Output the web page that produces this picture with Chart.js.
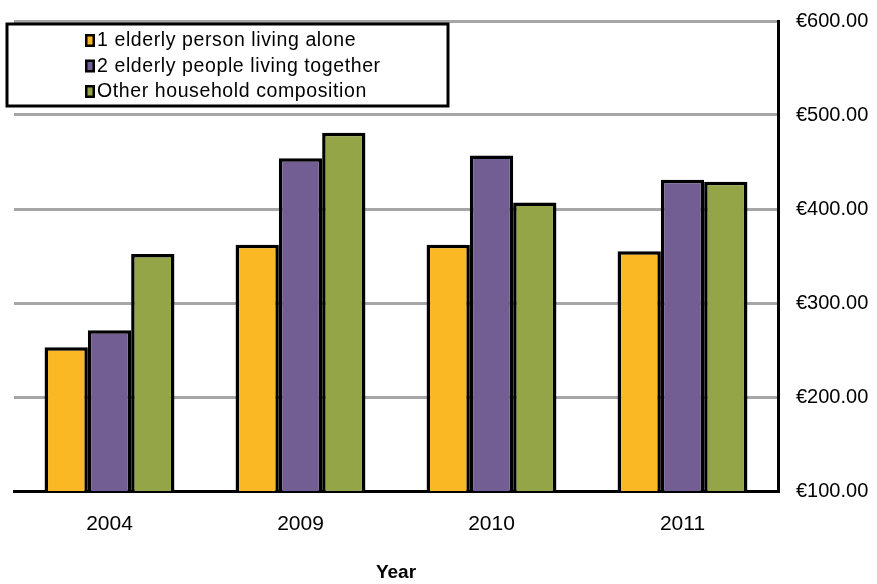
<!DOCTYPE html>
<html>

<head>
    <title>Household costs by composition</title>
    <script src="https://cdn.jsdelivr.net/npm/chart.js@4.4.0/dist/chart.umd.min.js"></script>
    <style>
        html, body { margin: 0; padding: 0; background: #fff; }
        #wrap { width: 877px; height: 584px; }
    </style>
</head>

<body>
    <div id="wrap"><canvas id="costChart" width="877" height="584"></canvas></div>

    <script>
        // Years and amounts per household type
        var years = ['2004', '2009', '2010', '2011'];
        var alone = [253, 362, 362, 355];
        var together = [271, 454, 457, 431];
        var other = [352, 481, 407, 429];
        var seriesNames = ['1 elderly person living alone', '2 elderly people living together', 'Other household composition'];
        var yTicks = [100, 200, 300, 400, 500, 600];

        var colors = ['#F9B824', '#735E93', '#94A548'];
        var font = "'Liberation Sans', Arial, sans-serif";

        // Boxed legend drawn over the top left of the plot
        var boxLegend = {
            id: 'boxLegend',
            afterDraw: function (chart) {
                var c = chart.ctx;
                c.save();
                c.fillStyle = '#fff';
                c.fillRect(7, 24, 441, 82);
                c.lineWidth = 3;
                c.strokeStyle = '#000';
                c.strokeRect(7, 24, 441, 82);
                c.font = '19.5px ' + font;
                c.letterSpacing = '0.6px';
                c.textBaseline = 'middle';
                chart.data.datasets.forEach(function (ds, i) {
                    var y = 40 + i * 25.5;
                    c.fillStyle = '#000';
                    c.fillRect(85, y - 6, 10, 13);
                    c.fillStyle = ds.backgroundColor;
                    c.fillRect(87.5, y - 3.5, 5, 8);
                    c.fillStyle = '#000';
                    c.fillText(ds.label, 97, y + 1);
                });
                c.restore();
            }
        };

        var ctx = document.getElementById('costChart').getContext('2d');
        var chart = new Chart(ctx, {
            type: 'bar',
            data: {
                labels: years,
                datasets: [
                    { label: seriesNames[0], data: alone, backgroundColor: colors[0] },
                    { label: seriesNames[1], data: together, backgroundColor: colors[1] },
                    { label: seriesNames[2], data: other, backgroundColor: colors[2] }
                ].map(function (d) {
                    d.borderColor = '#000';
                    d.borderWidth = 3.5;
                    d.borderSkipped = false;
                    d.barPercentage = 1;
                    d.categoryPercentage = 0.68;
                    return d;
                })
            },
            options: {
                responsive: false,
                animation: false,
                layout: { padding: { left: 14, top: 21, right: 0, bottom: 0 } },
                plugins: {
                    legend: { display: false },
                    tooltip: { enabled: false }
                },
                scales: {
                    x: {
                        grid: { display: false },
                        border: { color: '#000', width: 3 },
                        ticks: { color: '#000', font: { family: font, size: 21 }, padding: 13 },
                        title: {
                            display: true,
                            text: 'Year',
                            color: '#000',
                            font: { family: font, size: 19, weight: 'bold' },
                            padding: { top: 35, bottom: 0 }
                        },
                        afterFit: function (axis) { axis.height = 93; }
                    },
                    y: {
                        position: 'right',
                        min: yTicks[0],
                        max: yTicks[yTicks.length - 1],
                        afterBuildTicks: function (axis) {
                            axis.ticks = yTicks.map(function (v) { return { value: v }; });
                        },
                        grid: { color: '#a6a6a6', lineWidth: 3, drawTicks: false },
                        border: { color: '#000', width: 3 },
                        ticks: {
                            color: '#000',
                            padding: 18,
                            font: { family: font, size: 20 },
                            callback: function (v) { return '€' + v.toFixed(2); }
                        },
                        afterFit: function (axis) {
                            axis.width = 99;
                            axis.paddingTop = 0;
                            axis.paddingBottom = 0;
                        }
                    }
                }
            },
            plugins: [boxLegend]
        });
    </script>
</body>

</html>
